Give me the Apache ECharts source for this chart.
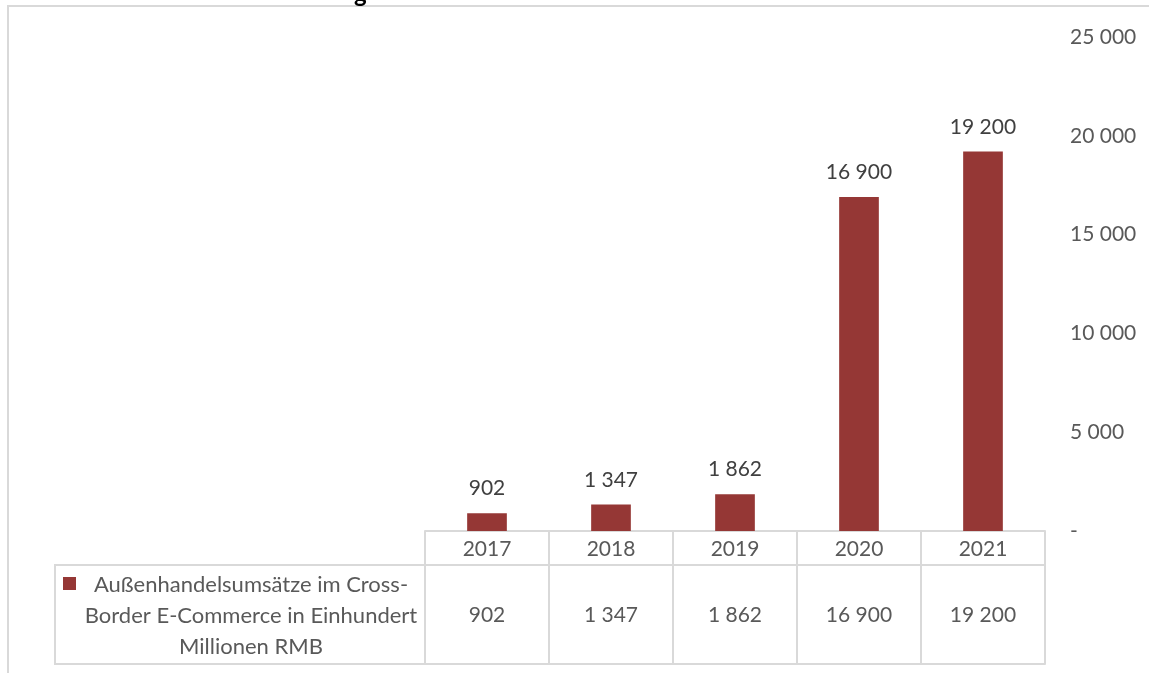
<!DOCTYPE html>
<html>
<head>
<meta charset="utf-8">
<script src="https://cdn.jsdelivr.net/npm/echarts@6/dist/echarts.min.js"></script>
<style>
  html, body { margin: 0; padding: 0; background: #fff; overflow: hidden; }
  #chart { width: 1149px; height: 673px; }
</style>
</head>
<body>
<div id="chart"></div>
<script>
// data
const years = ['2017', '2018', '2019', '2020', '2021']
const umsatz = [902, 1347, 1862, 16900, 19200]
const seriesName = 'Außenhandelsumsätze im Cross-Border E-Commerce in Einhundert Millionen RMB'
const legendLines = ['Außenhandelsumsätze im Cross-', 'Border E-Commerce in Einhundert', 'Millionen RMB']

const FONT = 'Lato'
const TXT = '#595959'
const LINE = '#d9d9d9'
const BAR = '#953735'

// 1 347, 16 900 ...
function fmt(v) {
  if (v === 0) return '-'
  return String(v).replace(/\B(?=(\d{3})+(?!\d))/g, ' ')
}

const myChart = echarts.init(document.getElementById('chart'))
const option = {
  animation: false,
  grid: { left: 425, right: 104, top: 37, bottom: 142 },
  xAxis: [
    {
      type: 'category',
      data: years,
      axisLine: { lineStyle: { color: LINE, width: 2 } },
      axisTick: { show: true, interval: 0, length: 34, lineStyle: { color: LINE, width: 2 } },
      axisLabel: { color: TXT, fontSize: 21, fontFamily: FONT, margin: 8 }
    },
    {
      type: 'category',
      data: years,
      position: 'bottom',
      offset: 34,
      axisLine: { show: true, lineStyle: { color: LINE, width: 2 } },
      axisTick: { show: true, interval: 0, length: 99, lineStyle: { color: LINE, width: 2 } },
      axisLabel: {
        color: TXT, fontSize: 21, fontFamily: FONT, margin: 40,
        formatter: (v, i) => fmt(umsatz[i])
      }
    },
    {
      type: 'category',
      data: years,
      position: 'bottom',
      offset: 133,
      axisLine: { show: true, lineStyle: { color: LINE, width: 2 } },
      axisTick: { show: false },
      axisLabel: { show: false }
    }
  ],
  yAxis: {
    type: 'value',
    position: 'right',
    min: 0,
    max: 25000,
    interval: 5000,
    axisLine: { show: false },
    axisTick: { show: false },
    splitLine: { show: false },
    axisLabel: { color: TXT, fontSize: 21, fontFamily: FONT, margin: 25, formatter: fmt }
  },
  series: [
    {
      name: seriesName,
      type: 'bar',
      data: umsatz,
      barWidth: '32%',
      itemStyle: { color: BAR },
      label: {
        show: true,
        position: 'top',
        distance: 14,
        color: '#404040',
        fontSize: 21,
        fontFamily: FONT,
        formatter: p => fmt(p.value)
      }
    }
  ],
  graphic: [
    // outer frame
    {
      type: 'rect',
      shape: { x: 8, y: 6, width: 1200, height: 700 },
      style: { fill: 'none', stroke: LINE, lineWidth: 2 },
      silent: true
    },
    // bit of the title cut off at the top
    {
      type: 'text',
      style: {
        text: 'g', x: 354, y: 6, verticalAlign: 'bottom',
        fontFamily: FONT, fontWeight: 'bold', fontSize: 24, fill: '#000'
      }
    },
    // legend cell of the data table
    {
      type: 'rect',
      shape: { x: 55, y: 565, width: 370, height: 99 },
      style: { fill: 'none', stroke: LINE, lineWidth: 2 }
    },
    {
      type: 'rect',
      shape: { x: 63, y: 577, width: 13, height: 13 },
      style: { fill: BAR }
    },
    {
      type: 'text',
      style: {
        text: legendLines.join('\n'),
        x: 251, y: 569,
        align: 'center',
        lineHeight: 31,
        fontFamily: FONT,
        fontSize: 22,
        fill: TXT
      }
    }
  ]
}
myChart.setOption(option)
</script>
</body>
</html>
